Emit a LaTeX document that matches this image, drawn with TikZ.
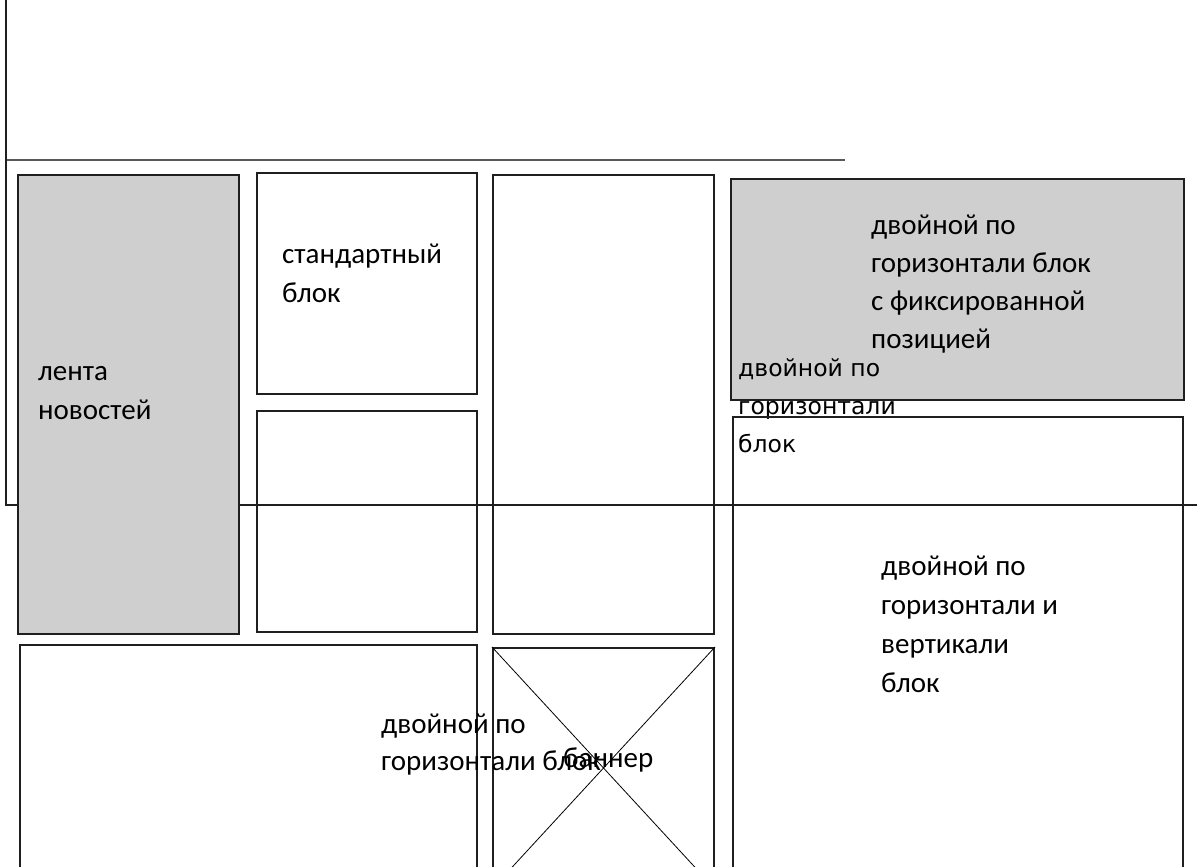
\documentclass[tikz,border=0pt]{standalone}
\usepackage{fontspec}
\setmainfont{Carlito}
\newfontfamily\dejavu{DejaVu Sans}
\begin{document}
\begin{tikzpicture}[x=1pt,y=-1pt,
  box/.style={draw=black!88,line width=2pt,fill=white,inner sep=0pt,anchor=north west},
  greybox/.style={box,fill=black!19},
  lbl/.style={inner sep=0pt,anchor=base west,align=left,font=\fontsize{29}{39}\selectfont},
  thin/.style={draw=black!65,line width=1.3pt}]
\useasboundingbox (0,0) rectangle (1197,867);
% frame lines
\coordinate (ftop) at (6,0);
\coordinate (fcorner) at (6,505);
\coordinate (fend) at (1197,505);
\coordinate (hl) at (6,160);
\coordinate (hr) at (845,160);
\draw[thin] (hl) -- (hr);
% white boxes
\node[box,minimum width=220pt,minimum height=221pt] (std) at (256,172) {};
\node[box,minimum width=220pt,minimum height=221pt] (std2) at (256,410) {};
\node[box,minimum width=221pt,minimum height=459pt] (tall) at (492,174) {};
\node[box,minimum width=457pt,minimum height=240pt] (wide) at (19,644) {};
\node[box,minimum width=221pt,minimum height=240pt] (banner) at (492,647) {};
\draw[line width=0.8pt] (banner.north west) -- (banner.south east);
\draw[line width=0.8pt] (banner.north east) -- (banner.south west);
\node[greybox,minimum width=453pt,minimum height=221pt] (fixed) at (730,178) {};
\node[lbl,font=\dejavu\fontsize{23.5}{38}\selectfont] (t738) at (738,452) {двойной по\\горизонтали\\блок};
\node[box,fill=none,minimum width=450pt,minimum height=470pt] (big) at (732,416) {};
\draw[draw=black!88,line width=2pt] (ftop) -- (fcorner) -- (fend);
\node[greybox,minimum width=221pt,minimum height=459pt] (news) at (17,174) {};
% labels
\node[lbl] (tnews) at (38,419) {лента\\новостей};
\node[lbl] (tstd) at (282,302) {стандартный\\блок};
\node[lbl,font=\fontsize{29}{38}\selectfont] (tfixed) at (871,348) {двойной по\\горизонтали блок\\с фиксированной\\позицией};
\node[lbl] (tbig) at (881,692) {двойной по\\горизонтали и\\вертикали\\блок};
\node[lbl,font=\fontsize{29}{37}\selectfont] (twide) at (381,770) {двойной по\\горизонтали блок};
\node[lbl] (tbanner) at (563,767) {баннер};
\end{tikzpicture}
\end{document}
